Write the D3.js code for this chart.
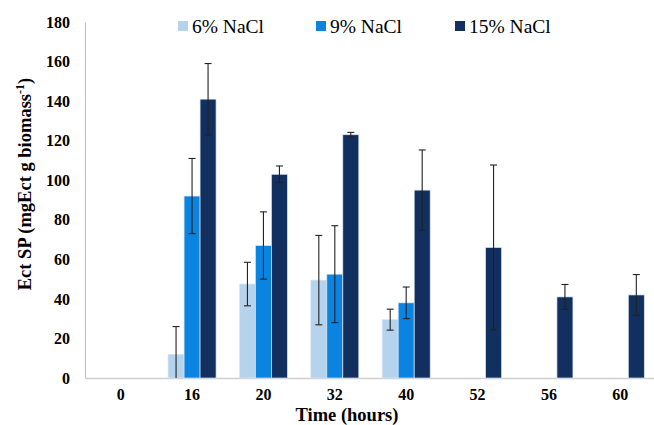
<!DOCTYPE html>
<html>
<head>
<meta charset="utf-8">
<script src="https://cdn.jsdelivr.net/npm/d3@7"></script>
<style>
  body { margin: 0; background: #fff; }
  text { font-family: "Liberation Serif", "Times New Roman", "DejaVu Serif", serif; }
</style>
</head>
<body>
<svg id="chart" width="654" height="425"></svg>
<script>
const times = ["0", "16", "20", "32", "40", "52", "56", "60"];
const seriesNames = ["6% NaCl", "9% NaCl", "15% NaCl"];
const colors = ["#b5d3ec", "#0a84e0", "#12305f"];
// null = no bar at that time
const nacl6 = [null, 12, 47.5, 49.5, 29.5, null, null, null];
const nacl9 = [null, 92, 67, 52.5, 38, null, null, null];
const nacl15 = [null, 141, 103, 123, 95, 66, 41, 42];
const err6 = [null, 14, 11, 22.6, 5.3, null, null, null];
const err9 = [null, 19, 17, 24.5, 8, null, null, null];
const err15 = [null, 18, 4.2, 1.2, 20.3, 41.7, 6.3, 10.3];
const yTicks = [0, 20, 40, 60, 80, 100, 120, 140, 160, 180];

const values = [nacl6, nacl9, nacl15];
const errors = [err6, err9, err15];

const svg = d3.select("#chart");
const margin = { top: 22, right: 0, bottom: 47, left: 85 };
const width = 654 - margin.left - margin.right;
const height = 425 - margin.top - margin.bottom;

const g = svg.append("g").attr("transform", `translate(${margin.left},${margin.top})`);

const x = d3.scaleBand().domain(times).range([0, 571]).paddingInner(0).paddingOuter(0);
const xs = d3.scaleBand().domain(seriesNames).range([0, 48]);
const groupOffset = (x.bandwidth() - 48) / 2;
const y = d3.scaleLinear().domain([0, 180]).range([height, 0]);

// y axis labels
const yAxis = d3.axisLeft(y).tickValues(yTicks).tickSize(0).tickPadding(15);
const ya = g.append("g").call(yAxis);
ya.select(".domain").attr("stroke", "#bfbfbf");
ya.selectAll("text").attr("font-size", 16).attr("font-weight", "bold").attr("fill", "#000");

// x axis
const xAxis = d3.axisBottom(x).tickSize(0).tickPadding(11);
const xa = g.append("g").attr("transform", `translate(0,${height})`).call(xAxis);
xa.select(".domain").attr("stroke", "#d0d0d0").attr("stroke-width", 1.5);
xa.selectAll("text").attr("font-size", 16).attr("font-weight", "bold").attr("fill", "#000");

// bars
const flat = [];
times.forEach((t, i) => {
  seriesNames.forEach((s, j) => {
    if (values[j][i] !== null) flat.push({ t, s, j, v: values[j][i], e: errors[j][i] });
  });
});

g.append("g").selectAll("rect").data(flat).join("rect")
  .attr("x", d => x(d.t) + groupOffset + xs(d.s))
  .attr("width", xs.bandwidth())
  .attr("y", d => y(d.v))
  .attr("height", d => height - y(d.v))
  .attr("fill", d => colors[d.j])
  .attr("stroke", "#dbe6f2")
  .attr("stroke-width", 0.7);

// error bars
const eb = g.append("g").attr("stroke", "#222").attr("stroke-width", 1.1);
flat.forEach(d => {
  const cx = x(d.t) + groupOffset + xs(d.s) + xs.bandwidth() / 2;
  const top = y(d.v + d.e);
  const bot = y(Math.max(0, d.v - d.e));
  eb.append("line").attr("x1", cx).attr("x2", cx).attr("y1", top).attr("y2", bot);
  eb.append("line").attr("x1", cx - 3.5).attr("x2", cx + 3.5).attr("y1", top).attr("y2", top);
  if (d.v - d.e > 0)
    eb.append("line").attr("x1", cx - 3.5).attr("x2", cx + 3.5).attr("y1", bot).attr("y2", bot);
});

// legend
const legendX = [178, 316, 455];
const lg = svg.append("g");
seriesNames.forEach((s, j) => {
  lg.append("rect").attr("x", legendX[j]).attr("y", 21).attr("width", 10).attr("height", 10)
    .attr("fill", colors[j]);
  lg.append("text").attr("x", legendX[j] + 14).attr("y", 33).attr("font-size", 19.5)
    .attr("fill", "#000").text(s);
});

// axis titles
svg.append("text")
  .attr("transform", "translate(31,184) rotate(-90)")
  .attr("text-anchor", "middle").attr("font-size", 18.5).attr("font-weight", "bold")
  .html('Ect SP (mgEct g biomass<tspan dy="-7" font-size="12">-1</tspan><tspan dy="7">)</tspan>');

svg.append("text")
  .attr("x", 347).attr("y", 421).attr("text-anchor", "middle")
  .attr("font-size", 18.5).attr("font-weight", "bold").text("Time (hours)");
</script>
</body>
</html>
